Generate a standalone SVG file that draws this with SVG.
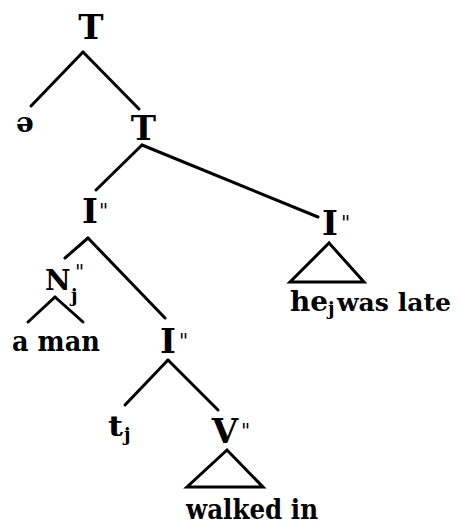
<svg xmlns="http://www.w3.org/2000/svg" width="459" height="525" viewBox="0 0 459 525">
<style>
.lbl{font-family:"DejaVu Serif","Liberation Serif",serif;font-weight:bold;fill:#000}
.big{font-size:34px}
.word{font-size:28px}
.sub{font-size:18px}
.pr{font-size:20px;font-weight:normal}
.e{stroke:#000;stroke-width:3;fill:none;stroke-linecap:round}
</style>
<rect width="459" height="525" fill="#fff"/>
<g id="connectors">
<line class="e" x1="83" y1="52" x2="31" y2="106"/>
<line class="e" x1="83" y1="52" x2="139" y2="109"/>
<line class="e" x1="142" y1="145" x2="96" y2="190"/>
<line class="e" x1="142" y1="145" x2="318" y2="217" stroke-width="3.5"/>
<line class="e" x1="88" y1="238" x2="65" y2="258"/>
<line class="e" x1="88" y1="238" x2="165" y2="318"/>
<line class="e" x1="55" y1="297" x2="28" y2="322"/>
<line class="e" x1="55" y1="297" x2="83" y2="322"/>
<line class="e" x1="168" y1="360" x2="125" y2="405"/>
<line class="e" x1="168" y1="360" x2="218" y2="410"/>
<polygon class="e" points="329,243 290,282 364,282" stroke-linejoin="miter"/>
<polygon class="e" points="227,450 187,487 263,487" stroke-linejoin="miter"/>
</g>
<g id="n-T1"><text class="lbl big" x="91" y="39" text-anchor="middle">T</text></g>
<g id="n-schwa"><text class="lbl word" x="25" y="132" text-anchor="middle">ə</text></g>
<g id="n-T2"><text class="lbl big" x="143.5" y="140" text-anchor="middle">T</text></g>
<g id="n-I1"><text class="lbl big" x="90" y="223" text-anchor="middle">I</text><text class="lbl pr" x="99" y="218">"</text></g>
<g id="n-I2"><text class="lbl big" x="330" y="235" text-anchor="middle">I</text><text class="lbl pr" x="341" y="230">"</text></g>
<g id="n-he"><text class="lbl word" x="290" y="311" textLength="38" lengthAdjust="spacingAndGlyphs">he</text><text class="lbl sub" x="328" y="315">j</text><text class="lbl" x="337" y="311" font-size="25" textLength="114" lengthAdjust="spacingAndGlyphs">was late</text></g>
<g id="n-N"><text class="lbl" x="45" y="290" font-size="28">N</text><text class="lbl sub" x="71" y="302">j</text><text class="lbl pr" x="75" y="279">"</text></g>
<g id="n-aman"><text class="lbl word" x="12" y="351" textLength="88" lengthAdjust="spacingAndGlyphs">a man</text></g>
<g id="n-I3"><text class="lbl big" x="168" y="353" text-anchor="middle">I</text><text class="lbl pr" x="179" y="348">"</text></g>
<g id="n-t"><text class="lbl word" x="108" y="436" textLength="15" lengthAdjust="spacingAndGlyphs">t</text><text class="lbl sub" x="124" y="441">j</text></g>
<g id="n-V"><text class="lbl big" x="225" y="443" text-anchor="middle">V</text><text class="lbl pr" x="241" y="438">"</text></g>
<g id="n-walked"><text class="lbl word" x="186" y="519" textLength="132" lengthAdjust="spacingAndGlyphs">walked in</text></g>
</svg>
